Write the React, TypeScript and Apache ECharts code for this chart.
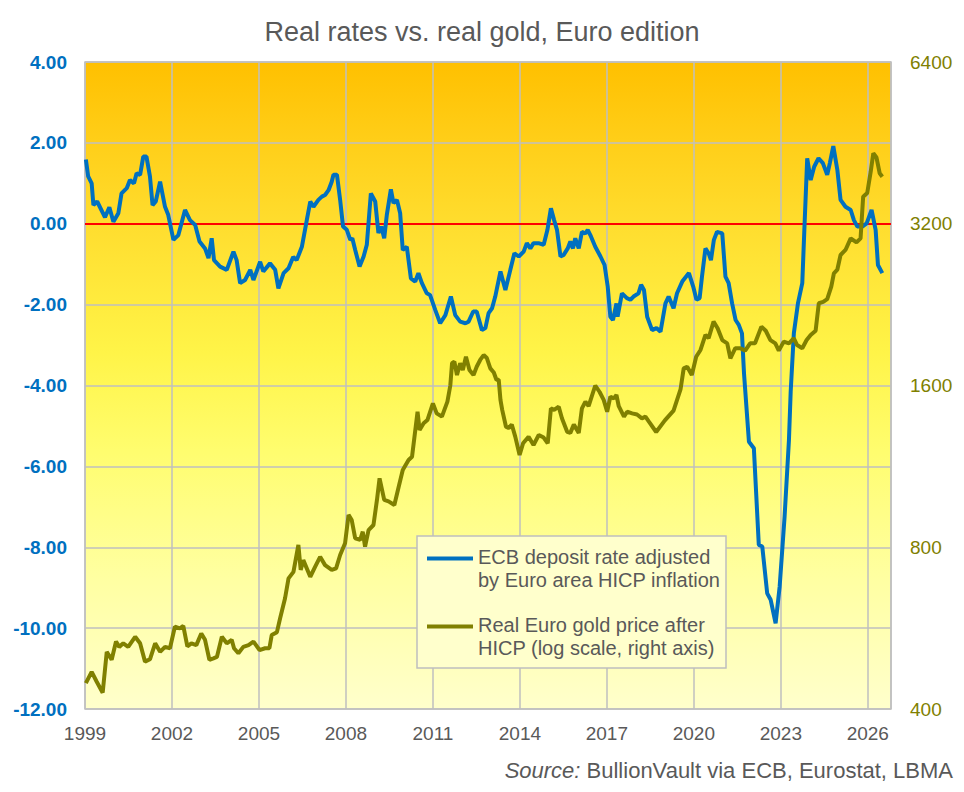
import React, { useEffect, useRef } from "react";
import * as echarts from "echarts";

const FONT = "'Liberation Sans', Arial, sans-serif";

const titleText = "Real rates vs. real gold, Euro edition";
const sourceLabel = "Source:";
const sourceText = " BullionVault via ECB, Eurostat, LBMA";
const rateName = "ECB deposit rate adjusted\nby Euro area HICP inflation";
const goldName = "Real Euro gold price after\nHICP (log scale, right axis)";

const startYear = 1999;
const endYear = 2026.8;
const yearStep = 3;
const leftMin = -12;
const leftMax = 4;
const leftStep = 2;
const goldBase = 400;
const goldDoublings = 4;

// ECB deposit rate minus HICP inflation, % (decimal year, value)
const realRate: [number, number][] = [
  [1999.03, 1.59], [1999.11, 1.17], [1999.23, 1.0], [1999.29, 0.46], [1999.42, 0.55],
  [1999.69, 0.16], [1999.84, 0.41], [1999.98, 0.05], [2000.15, 0.26], [2000.26, 0.75],
  [2000.44, 0.88], [2000.55, 1.08], [2000.69, 1.0], [2000.78, 1.25], [2000.9, 1.21],
  [2001.01, 1.66], [2001.12, 1.66], [2001.24, 1.17], [2001.33, 0.46], [2001.44, 0.55],
  [2001.59, 1.04], [2001.68, 0.71], [2001.76, 0.42], [2001.87, 0.22], [2002.05, -0.4],
  [2002.22, -0.28], [2002.45, 0.34], [2002.62, 0.09], [2002.8, -0.03], [2002.95, -0.44],
  [2003.14, -0.61], [2003.26, -0.85], [2003.37, -0.36], [2003.45, -0.9], [2003.66, -1.06],
  [2003.89, -1.14], [2004.12, -0.69], [2004.23, -0.9], [2004.35, -1.47], [2004.52, -1.39],
  [2004.7, -1.14], [2004.81, -1.39], [2005.04, -0.94], [2005.15, -1.18], [2005.38, -0.98],
  [2005.56, -1.14], [2005.67, -1.6], [2005.85, -1.22], [2006.02, -1.1], [2006.18, -0.82],
  [2006.3, -0.9], [2006.48, -0.57], [2006.65, 0.09], [2006.77, 0.55], [2006.88, 0.42],
  [2007.05, 0.59], [2007.17, 0.67], [2007.28, 0.71], [2007.4, 0.83], [2007.51, 1.04],
  [2007.57, 1.21], [2007.69, 1.21], [2007.8, 0.59], [2007.9, -0.07], [2008.03, -0.15],
  [2008.15, -0.4], [2008.22, -0.36], [2008.32, -0.65], [2008.47, -1.06], [2008.61, -0.81],
  [2008.72, -0.52], [2008.86, 0.75], [2009.01, 0.55], [2009.12, -0.23], [2009.22, -0.07],
  [2009.32, -0.36], [2009.41, 0.22], [2009.55, 0.85], [2009.64, 0.51], [2009.76, 0.59],
  [2009.87, 0.26], [2009.96, -0.65], [2010.1, -0.57], [2010.24, -1.35], [2010.39, -1.43],
  [2010.5, -1.22], [2010.62, -1.47], [2010.79, -1.72], [2010.9, -1.76], [2011.08, -2.13],
  [2011.25, -2.46], [2011.43, -2.26], [2011.62, -1.8], [2011.77, -2.26], [2011.94, -2.42],
  [2012.12, -2.46], [2012.23, -2.42], [2012.39, -2.17], [2012.51, -2.17], [2012.69, -2.63],
  [2012.81, -2.58], [2012.92, -2.21], [2013.04, -2.09], [2013.15, -1.8], [2013.33, -1.18],
  [2013.5, -1.64], [2013.67, -1.14], [2013.81, -0.73], [2013.96, -0.81], [2014.13, -0.69],
  [2014.24, -0.48], [2014.36, -0.61], [2014.47, -0.48], [2014.64, -0.48], [2014.82, -0.52],
  [2014.95, -0.15], [2015.07, 0.38], [2015.18, 0.09], [2015.28, -0.15], [2015.4, -0.81],
  [2015.51, -0.77], [2015.65, -0.61], [2015.74, -0.44], [2015.83, -0.61], [2015.91, -0.36],
  [2016.03, -0.61], [2016.14, -0.2], [2016.26, -0.24], [2016.34, -0.15], [2016.43, -0.28],
  [2016.6, -0.57], [2016.78, -0.81], [2016.92, -1.02], [2017.03, -1.56], [2017.12, -2.3],
  [2017.21, -2.38], [2017.33, -1.97], [2017.37, -2.3], [2017.52, -1.72], [2017.69, -1.84],
  [2017.81, -1.88], [2017.92, -1.8], [2018.09, -1.72], [2018.18, -1.51], [2018.28, -1.64],
  [2018.39, -2.3], [2018.56, -2.63], [2018.71, -2.58], [2018.85, -2.67], [2019.02, -1.97],
  [2019.13, -1.8], [2019.3, -2.09], [2019.42, -1.72], [2019.6, -1.43], [2019.83, -1.22],
  [2019.98, -1.56], [2020.09, -1.88], [2020.2, -1.84], [2020.28, -1.31], [2020.4, -0.61],
  [2020.51, -0.73], [2020.59, -0.9], [2020.69, -0.4], [2020.8, -0.2], [2020.98, -0.24],
  [2021.09, -1.31], [2021.2, -1.47], [2021.32, -1.97], [2021.44, -2.38], [2021.55, -2.5],
  [2021.66, -2.71], [2021.73, -3.7], [2021.9, -5.39], [2022.07, -5.55], [2022.24, -7.94],
  [2022.36, -7.98], [2022.53, -9.14], [2022.65, -9.3], [2022.82, -9.88], [2022.96, -8.97],
  [2023.13, -7.24], [2023.28, -5.35], [2023.34, -4.15], [2023.45, -2.7], [2023.59, -1.97],
  [2023.74, -1.47], [2023.82, 0.01], [2023.91, 1.62], [2024.03, 1.08], [2024.15, 1.41],
  [2024.3, 1.62], [2024.45, 1.5], [2024.6, 1.21], [2024.69, 1.5], [2024.81, 1.92],
  [2024.95, 1.33], [2025.06, 0.59], [2025.23, 0.42], [2025.41, 0.34], [2025.52, 0.09],
  [2025.64, -0.07], [2025.81, -0.07], [2025.96, 0.01], [2026.13, 0.34], [2026.27, -0.15],
  [2026.35, -1.02], [2026.5, -1.22],
];

// Real Euro gold price after HICP (decimal year, price)
const realGold: [number, number][] = [
  [1999.03, 447], [1999.23, 469], [1999.4, 450], [1999.61, 429], [1999.75, 511],
  [1999.92, 494], [2000.07, 534], [2000.18, 522], [2000.32, 530], [2000.49, 522],
  [2000.73, 545], [2000.9, 530], [2001.07, 490], [2001.24, 495], [2001.42, 530],
  [2001.59, 511], [2001.76, 522], [2001.93, 519], [2002.1, 569], [2002.27, 565],
  [2002.39, 571], [2002.53, 523], [2002.67, 530], [2002.84, 526], [2003.01, 553],
  [2003.14, 538], [2003.29, 494], [2003.43, 497], [2003.55, 500], [2003.72, 545],
  [2003.89, 530], [2004.06, 538], [2004.14, 519], [2004.29, 508], [2004.46, 522],
  [2004.64, 526], [2004.81, 534], [2005.02, 515], [2005.21, 519], [2005.36, 519],
  [2005.44, 549], [2005.62, 556], [2005.73, 590], [2005.9, 643], [2006.02, 700],
  [2006.19, 720], [2006.36, 808], [2006.44, 726], [2006.53, 757], [2006.77, 705],
  [2006.94, 736], [2007.11, 768], [2007.28, 741], [2007.51, 726], [2007.66, 731],
  [2007.8, 774], [2007.97, 814], [2008.09, 919], [2008.2, 899], [2008.32, 831],
  [2008.49, 826], [2008.58, 855], [2008.66, 802], [2008.78, 861], [2008.95, 880],
  [2009.07, 980], [2009.16, 1075], [2009.32, 980], [2009.47, 974], [2009.67, 959],
  [2009.82, 1037], [2009.96, 1114], [2010.16, 1163], [2010.28, 1179], [2010.47, 1430],
  [2010.54, 1322], [2010.68, 1361], [2010.81, 1380], [2011.0, 1482], [2011.13, 1420],
  [2011.31, 1400], [2011.5, 1493], [2011.6, 1600], [2011.66, 1760], [2011.74, 1772],
  [2011.83, 1673], [2011.94, 1760], [2012.03, 1710], [2012.14, 1810], [2012.26, 1710],
  [2012.4, 1673], [2012.51, 1734], [2012.63, 1785], [2012.75, 1823], [2012.86, 1800],
  [2012.98, 1722], [2013.1, 1692], [2013.19, 1640], [2013.27, 1640], [2013.33, 1504],
  [2013.39, 1441], [2013.52, 1341], [2013.61, 1333], [2013.72, 1354], [2013.84, 1285],
  [2013.99, 1188], [2014.11, 1249], [2014.3, 1285], [2014.47, 1240], [2014.65, 1294],
  [2014.82, 1280], [2014.96, 1249], [2015.07, 1451], [2015.18, 1441], [2015.34, 1461],
  [2015.45, 1390], [2015.63, 1312], [2015.74, 1306], [2015.86, 1354], [2016.03, 1306],
  [2016.14, 1451], [2016.26, 1493], [2016.37, 1464], [2016.6, 1600], [2016.75, 1556],
  [2016.89, 1504], [2017.01, 1430], [2017.12, 1525], [2017.24, 1514], [2017.33, 1536],
  [2017.41, 1464], [2017.59, 1400], [2017.7, 1430], [2017.87, 1420], [2018.04, 1413],
  [2018.21, 1390], [2018.33, 1400], [2018.45, 1370], [2018.7, 1311], [2019.0, 1378],
  [2019.3, 1437], [2019.54, 1573], [2019.65, 1722], [2019.77, 1734], [2019.93, 1673],
  [2020.08, 1810], [2020.23, 1863], [2020.4, 1987], [2020.51, 1960], [2020.68, 2104],
  [2020.82, 2045], [2020.98, 1944], [2021.15, 1917], [2021.26, 1798], [2021.43, 1877],
  [2021.6, 1877], [2021.77, 1858], [2021.94, 1917], [2022.11, 1917], [2022.33, 2059],
  [2022.48, 2023], [2022.64, 1944], [2022.81, 1917], [2022.93, 1858], [2023.1, 1931],
  [2023.28, 1917], [2023.45, 1959], [2023.56, 1903], [2023.74, 1877], [2023.89, 1944],
  [2024.03, 1987], [2024.2, 2023], [2024.31, 2276], [2024.46, 2290], [2024.6, 2317],
  [2024.74, 2444], [2024.83, 2588], [2024.95, 2630], [2025.06, 2799], [2025.23, 2860],
  [2025.41, 3006], [2025.61, 2955], [2025.75, 3006], [2025.84, 3593], [2025.98, 3650],
  [2026.1, 4000], [2026.19, 4329], [2026.3, 4250], [2026.41, 3973], [2026.5, 3915],
];

export default function App() {
  const ref = useRef<HTMLDivElement>(null);

  useEffect(() => {
    if (!ref.current) return;
    const chart = echarts.init(ref.current, null, { renderer: "svg" });

    const gridBg = new echarts.graphic.LinearGradient(0, 0, 0, 1, [
      { offset: 0, color: "#FFC000" },
      { offset: 0.12, color: "#FFCE18" },
      { offset: 0.25, color: "#FFDD2E" },
      { offset: 0.45, color: "#FFF448" },
      { offset: 0.6, color: "#FFFD6E" },
      { offset: 0.8, color: "#FFFFA2" },
      { offset: 1, color: "#FFFFCC" },
    ]);

    const legendIcon = "path://M0,0H46V4H0Z M0,23L0.01,23";

    chart.setOption({
      animation: false,
      backgroundColor: "#FFFFFF",
      textStyle: { fontFamily: FONT },
      title: {
        text: titleText,
        left: "center",
        top: 18,
        padding: 0,
        textStyle: { fontFamily: FONT, fontSize: 27, fontWeight: "normal", color: "#595959" },
      },
      grid: {
        left: 85,
        top: 62,
        right: 73,
        bottom: 83,
        show: true,
        backgroundColor: gridBg,
        borderColor: "#BFBFBF",
        borderWidth: 1.5,
      },
      legend: {
        orient: "vertical",
        left: 417,
        top: 536,
        backgroundColor: "#FFFFCC",
        borderColor: "#BFBFBF",
        borderWidth: 1.5,
        borderRadius: 0,
        padding: [9, 5, 9, 10],
        itemGap: 22,
        itemWidth: 46,
        itemHeight: 23,
        symbolKeepAspect: false,
        itemStyle: { borderWidth: 0 },
        textStyle: {
          fontFamily: FONT,
          fontSize: 20,
          lineHeight: 23,
          color: "#595959",
          width: 243,
          overflow: "none",
        },
        data: [
          { name: rateName, icon: legendIcon },
          { name: goldName, icon: legendIcon },
        ],
      },
      xAxis: {
        type: "value",
        min: 0,
        max: endYear - startYear,
        interval: yearStep,
        axisLine: { show: false },
        axisTick: { show: false },
        splitLine: { show: true, lineStyle: { color: "#BFBFBF", width: 1.5 } },
        axisLabel: {
          showMaxLabel: false,
          margin: 15,
          fontFamily: FONT,
          fontSize: 19,
          color: "#595959",
          formatter: (v: number) =>
            Math.abs(v - Math.round(v)) < 1e-6 ? String(startYear + Math.round(v)) : "",
        },
      },
      yAxis: [
        {
          type: "value",
          min: leftMin,
          max: leftMax,
          interval: leftStep,
          axisLine: { show: false },
          axisTick: { show: false },
          splitLine: { show: true, lineStyle: { color: "#BFBFBF", width: 1.5 } },
          axisLabel: {
            margin: 18,
            fontFamily: FONT,
            fontSize: 19,
            fontWeight: "bold",
            color: "#0070C0",
            formatter: (v: number) => v.toFixed(2),
          },
        },
        {
          type: "value",
          position: "right",
          min: 0,
          max: goldDoublings,
          interval: 1,
          axisLine: { show: false },
          axisTick: { show: false },
          splitLine: { show: false },
          axisLabel: {
            margin: 19,
            fontFamily: FONT,
            fontSize: 19,
            color: "#808000",
            formatter: (v: number) => String(Math.round(goldBase * Math.pow(2, v))),
          },
        },
      ],
      series: [
        {
          name: rateName,
          type: "line",
          yAxisIndex: 0,
          z: 6,
          showSymbol: false,
          symbol: "none",
          color: "#0070C0",
          lineStyle: { color: "#0070C0", width: 4 },
          data: realRate.map(([t, v]) => [t - startYear, v]),
          markLine: {
            silent: true,
            z: 5,
            symbol: "none",
            label: { show: false },
            lineStyle: { color: "#FF0000", width: 2, type: "solid" },
            data: [{ yAxis: 0 }],
          },
        },
        {
          name: goldName,
          type: "line",
          yAxisIndex: 1,
          z: 7,
          showSymbol: false,
          symbol: "none",
          color: "#808000",
          lineStyle: { color: "#808000", width: 4 },
          data: realGold.map(([t, v]) => [t - startYear, Math.log2(v / goldBase)]),
        },
      ],
      graphic: [
        {
          type: "text",
          right: 11,
          top: 759,
          style: {
            text: "{i|" + sourceLabel + "}{n|" + sourceText + "}",
            rich: {
              i: { fontStyle: "italic", fontSize: 22, fontFamily: FONT, fill: "#595959" },
              n: { fontSize: 22, fontFamily: FONT, fill: "#595959" },
            },
            fontSize: 22,
            fontFamily: FONT,
            fill: "#595959",
          },
        },
      ],
    });

    return () => chart.dispose();
  }, []);

  return (
    <div
      ref={ref}
      style={{ position: "absolute", left: 0, top: 0, width: 964, height: 792 }}
    />
  );
}
